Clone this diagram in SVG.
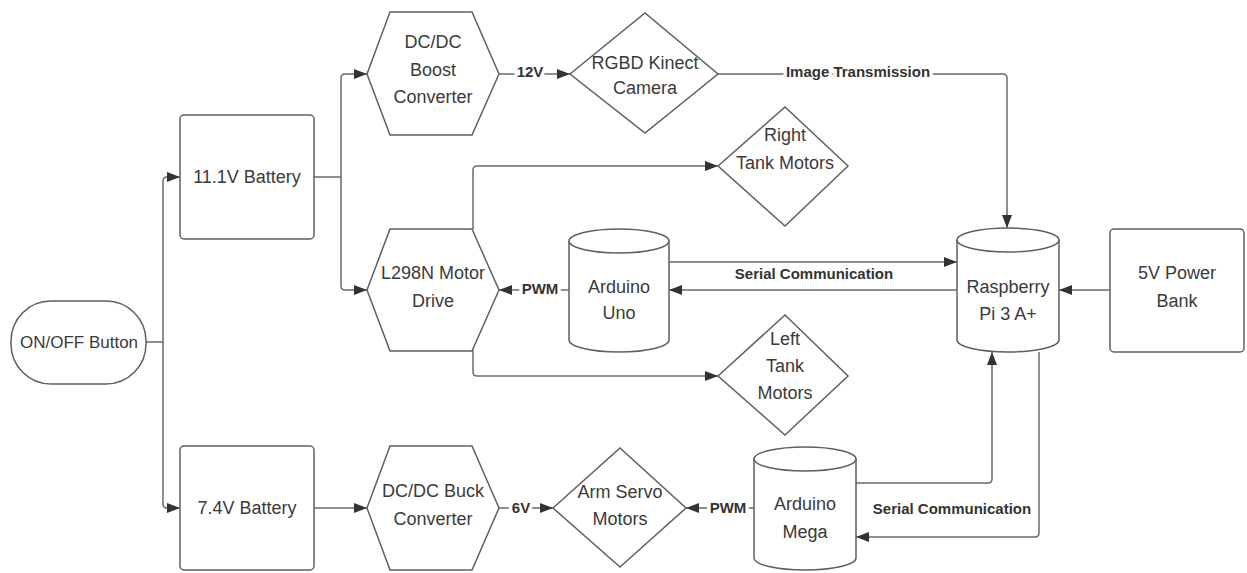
<svg xmlns="http://www.w3.org/2000/svg" width="1247" height="573" viewBox="0 0 1247 573">
<style>
.n{fill:#fff;stroke:#5f5f5f;stroke-width:1.5}
.t{font-family:"Liberation Sans",Arial,sans-serif;font-size:18px;fill:#3a3a3a;text-anchor:middle}
.c{fill:none;stroke:#6a6a6a;stroke-width:1.5}
.l{font-family:"Liberation Sans",Arial,sans-serif;font-size:15px;font-weight:bold;fill:#333;text-anchor:middle;paint-order:stroke;stroke:#fff;stroke-width:7px;stroke-linejoin:round}
</style>
<defs>
<marker id="ah" markerUnits="userSpaceOnUse" markerWidth="13" markerHeight="10" refX="13" refY="5" orient="auto">
<path d="M0,0 L13,5 L0,10 z" fill="#333"/>
</marker>
</defs>
<rect width="1247" height="573" fill="#fff"/>
<g id="connectors">
<path class="c" d="M146,342 H163 V181 Q163,177 167,177 H180" marker-end="url(#ah)"/>
<path class="c" d="M163,342 V504 Q163,508 167,508 H180" marker-end="url(#ah)"/>
<path class="c" d="M314,177 H341 V78 Q341,74 345,74 H367" marker-end="url(#ah)"/>
<path class="c" d="M341,177 V286 Q341,290 345,290 H367" marker-end="url(#ah)"/>
<path class="c" d="M499,74 H570" marker-end="url(#ah)"/>
<path class="c" d="M718,74 H1003 Q1007,74 1007,78 V228" marker-end="url(#ah)"/>
<path class="c" d="M473,229 V170 Q473,166 477,166 H718" marker-end="url(#ah)"/>
<path class="c" d="M473,350 V372 Q473,376 477,376 H718" marker-end="url(#ah)"/>
<path class="c" d="M569,290 H499" marker-end="url(#ah)"/>
<path class="c" d="M669,262 H957" marker-end="url(#ah)"/>
<path class="c" d="M957,290 H669" marker-end="url(#ah)"/>
<path class="c" d="M1110,290 H1059" marker-end="url(#ah)"/>
<path class="c" d="M314,508 H367" marker-end="url(#ah)"/>
<path class="c" d="M499,508 H553" marker-end="url(#ah)"/>
<path class="c" d="M754,508 H686" marker-end="url(#ah)"/>
<path class="c" d="M856,483 H988 Q992,483 992,479 V352" marker-end="url(#ah)"/>
<path class="c" d="M1039,352 V533 Q1039,537 1035,537 H856" marker-end="url(#ah)"/>
<text class="l" x="530" y="77">12V</text>
<text class="l" x="858" y="77">Image Transmission</text>
<text class="l" x="814" y="279">Serial Communication</text>
<text class="l" x="540" y="294">PWM</text>
<text class="l" x="521" y="513">6V</text>
<text class="l" x="728" y="513">PWM</text>
<text class="l" x="952" y="514">Serial Communication</text>
</g>
<g id="onoff">
<rect class="n" x="11" y="301" width="135" height="83" rx="40" ry="40"/>
<text class="t" x="79" y="348" style="font-size:17px">ON/OFF Button</text>
</g>
<g id="battery11">
<rect class="n" x="180" y="115" width="134" height="124" rx="4"/>
<text class="t" x="247" y="183">11.1V Battery</text>
</g>
<g id="battery7">
<rect class="n" x="180" y="446" width="134" height="124" rx="4"/>
<text class="t" x="247" y="514">7.4V Battery</text>
</g>
<g id="boost">
<path class="n" d="M367,74 L390,12 H472 L499,74 L472,135 H390 Z"/>
<text class="t" x="433" y="48">DC/DC</text>
<text class="t" x="433" y="76">Boost</text>
<text class="t" x="433" y="103">Converter</text>
</g>
<g id="l298n">
<path class="n" d="M367,290 L390,229 H472 L499,290 L472,351 H390 Z"/>
<text class="t" x="433" y="279">L298N Motor</text>
<text class="t" x="433" y="307">Drive</text>
</g>
<g id="buck">
<path class="n" d="M367,508 L390,446 H472 L499,508 L472,570 H390 Z"/>
<text class="t" x="433" y="497">DC/DC Buck</text>
<text class="t" x="433" y="525">Converter</text>
</g>
<g id="kinect">
<path class="n" d="M570,74 L645,13 L718,74 L645,133 Z"/>
<text class="t" x="645" y="69">RGBD Kinect</text>
<text class="t" x="645" y="94">Camera</text>
</g>
<g id="righttank">
<path class="n" d="M718,166 L785,107 L848,166 L785,226 Z"/>
<text class="t" x="785" y="141">Right</text>
<text class="t" x="785" y="169">Tank Motors</text>
</g>
<g id="lefttank">
<path class="n" d="M718,376 L785,315 L848,376 L785,435 Z"/>
<text class="t" x="785" y="345">Left</text>
<text class="t" x="785" y="372">Tank</text>
<text class="t" x="785" y="399">Motors</text>
</g>
<g id="armservo">
<path class="n" d="M553,508 L620,448 L686,508 L620,567 Z"/>
<text class="t" x="620" y="498">Arm Servo</text>
<text class="t" x="620" y="525">Motors</text>
</g>
<g id="uno">
<path class="n" d="M569,241 V340 A50,12 0 0 0 669,340 V241 A50,12 0 0 0 569,241 Z"/>
<path class="n" fill="none" d="M569,241 A50,12 0 0 0 669,241"/>
<text class="t" x="619" y="293">Arduino</text>
<text class="t" x="619" y="319">Uno</text>
</g>
<g id="mega">
<path class="n" d="M754,459 V558 A51,12 0 0 0 856,558 V459 A51,12 0 0 0 754,459 Z"/>
<path class="n" fill="none" d="M754,459 A51,12 0 0 0 856,459"/>
<text class="t" x="805" y="510">Arduino</text>
<text class="t" x="805" y="538">Mega</text>
</g>
<g id="raspberry">
<path class="n" d="M957,240 V340 A51,12 0 0 0 1059,340 V240 A51,12 0 0 0 957,240 Z"/>
<path class="n" fill="none" d="M957,240 A51,12 0 0 0 1059,240"/>
<text class="t" x="1008" y="293">Raspberry</text>
<text class="t" x="1008" y="320">Pi 3 A+</text>
</g>
<g id="powerbank">
<rect class="n" x="1110" y="229" width="134" height="123" rx="4"/>
<text class="t" x="1177" y="279">5V Power</text>
<text class="t" x="1177" y="307">Bank</text>
</g>
</svg>
